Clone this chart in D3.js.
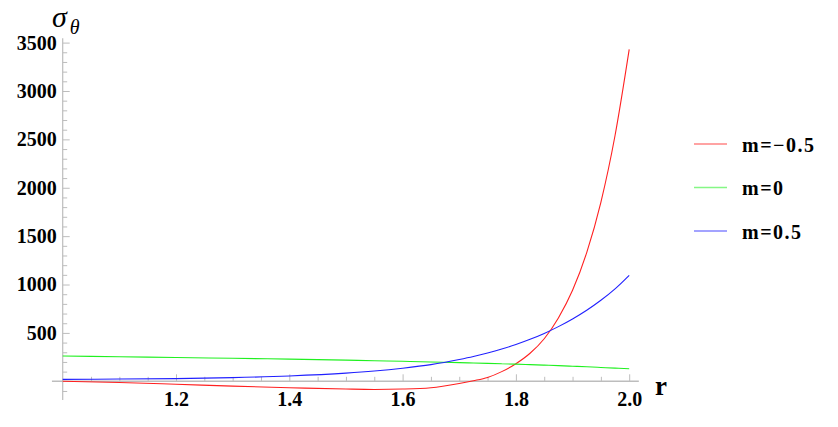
<!DOCTYPE html>
<html>
<head>
<meta charset="utf-8">
<script src="https://cdn.jsdelivr.net/npm/d3@7"></script>
<style>
  body { margin: 0; background: #fff; }
  text { font-family: "Liberation Serif", "Times New Roman", serif; }
</style>
</head>
<body>
<div class="canvas"></div>
<script>
// data
const rValues = [1.0, 1.1, 1.2, 1.3, 1.4, 1.5, 1.55, 1.6, 1.65, 1.7, 1.725, 1.75, 1.775, 1.8, 1.825, 1.85, 1.875, 1.9, 1.925, 1.95, 1.975, 2.0];
const mNeg = [0, -12, -30, -50, -66, -80, -84, -80, -66, -22, 6, 40, 100, 182, 290, 440, 655, 940, 1330, 1850, 2540, 3430];
const mZero = [262, 254, 246, 238, 229, 219, 213, 207, 200, 193, 189, 185, 181, 177, 172, 167, 162, 156, 150, 143, 136, 130];
const mPos = [20, 23, 28, 38, 55, 84, 106, 135, 172, 225, 256, 292, 333, 380, 434, 495, 565, 644, 734, 837, 955, 1095];

const seriesNames = ['m=\u22120.5', 'm=0', 'm=0.5'];
const seriesColors = ['#ff2020', '#20f020', '#2020ff'];

const xTicks = [1.2, 1.4, 1.6, 1.8, 2.0];
const yTicks = [500, 1000, 1500, 2000, 2500, 3000, 3500];

const width = 838, height = 427;

const svg = d3.select('.canvas')
    .append('svg')
        .attr('width', width)
        .attr('height', height);

// scales
const x = d3.scaleLinear().domain([1, 2]).range([62.7, 629.2]);
const y = d3.scaleLinear().domain([0, 3500]).range([381.3, 42.6]);

const axisColor = '#bdbdbd';

// minor ticks
const xMinor = d3.range(1.05, 2.01, 0.05).filter(v => Math.abs(v * 5 - Math.round(v * 5)) > 1e-6);
const yMinor = d3.range(-100, 3501, 100).filter(v => v % 500 !== 0);

const xMinorG = svg.append('g')
    .attr('transform', `translate(0,${y(0)})`)
    .call(d3.axisBottom(x).tickValues(xMinor).tickSize(-4.5).tickFormat(''));
const yMinorG = svg.append('g')
    .attr('transform', `translate(${x(1)},0)`)
    .call(d3.axisLeft(y).tickValues(yMinor).tickSize(-4.5).tickFormat(''));

// major ticks
const xAxisG = svg.append('g')
    .attr('transform', `translate(0,${y(0)})`)
    .call(d3.axisBottom(x).tickValues(xTicks).tickSize(-7).tickPadding(11).tickFormat(d3.format('.1f')));
const yAxisG = svg.append('g')
    .attr('transform', `translate(${x(1)},0)`)
    .call(d3.axisLeft(y).tickValues(yTicks).tickSize(-7).tickPadding(6).tickFormat(d3.format('d')));

[xMinorG, yMinorG, xAxisG, yAxisG].forEach(g => {
    g.select('.domain').remove();
    g.selectAll('line').attr('stroke', axisColor).attr('stroke-width', 1);
    g.selectAll('text')
        .attr('fill', '#000')
        .attr('font-size', 20)
        .attr('font-weight', 'bold')
        .style('font-family', '"Liberation Serif", serif');
});

// axis lines
svg.append('line')
    .attr('x1', x(0.981)).attr('x2', x(2.017))
    .attr('y1', y(0)).attr('y2', y(0))
    .attr('stroke', axisColor).attr('stroke-width', 1.6);
svg.append('line')
    .attr('x1', x(1)).attr('x2', x(1))
    .attr('y1', y(-192)).attr('y2', y(3546))
    .attr('stroke', axisColor).attr('stroke-width', 1.2);

// curves
const line = d3.line()
    .x((d, i) => x(rValues[i]))
    .y(d => y(d))
    .curve(d3.curveMonotoneX);

[mNeg, mZero, mPos].forEach((s, i) => {
    svg.append('path')
        .datum(s)
        .attr('fill', 'none')
        .attr('stroke', seriesColors[i])
        .attr('stroke-width', 1.1)
        .attr('d', line);
});

// axis labels
svg.append('text')
    .attr('x', 655).attr('y', 395)
    .attr('font-size', 27)
    .attr('font-weight', 'bold')
    .text('r');

const yLabel = svg.append('text')
    .attr('x', 52).attr('y', 27)
    .attr('font-style', 'italic');
yLabel.append('tspan').attr('font-size', 30).text('\u03c3');
yLabel.append('tspan').attr('font-size', 20).attr('dx', 3).attr('dy', 7).text('\u03b8');

// legend
const legend = svg.append('g');
seriesNames.forEach((name, i) => {
    const ly = 144 + i * 43.5;
    legend.append('line')
        .attr('x1', 694).attr('x2', 727)
        .attr('y1', ly).attr('y2', ly)
        .attr('stroke', seriesColors[i])
        .attr('stroke-opacity', 0.55)
        .attr('stroke-width', 1.5);
    legend.append('text')
        .attr('x', 742).attr('y', ly + 7.5)
        .attr('font-size', 20)
        .attr('font-weight', 'bold')
        .attr('letter-spacing', 1.5)
        .text(name);
});
</script>
</body>
</html>
